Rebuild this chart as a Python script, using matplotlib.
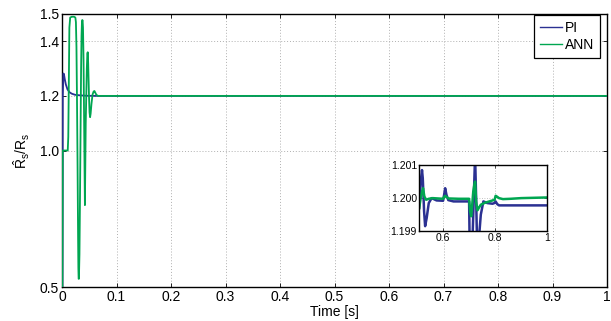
import matplotlib
matplotlib.use("Agg")
import matplotlib.pyplot as plt

plt.rcParams['font.family'] = ['Liberation Sans', 'DejaVu Sans']
plt.rcParams['mathtext.fontset'] = 'custom'
plt.rcParams['mathtext.rm'] = 'Liberation Sans'
plt.rcParams['mathtext.it'] = 'Liberation Sans'

# ---- main plot data ----
pi_t = [0.0, 0.0008, 0.0014, 0.0025, 0.0035, 0.005, 0.007, 0.010, 0.014, 0.018, 0.024, 0.033, 0.045, 0.06, 0.1, 1.0]
pi_y = [0.5, 0.5, 1.20, 1.282, 1.280, 1.262, 1.242, 1.224, 1.213, 1.208, 1.204, 1.202, 1.2005, 1.2, 1.2, 1.2]

ann_t = [0.0, 0.0006, 0.0012, 0.0105, 0.0115, 0.0125, 0.0135, 0.015, 0.018, 0.022, 0.0245, 0.0255, 0.0265,
         0.0275, 0.0285, 0.0295, 0.030, 0.0305, 0.031, 0.032, 0.033, 0.034, 0.035, 0.0358, 0.0365, 0.0372,
         0.0378, 0.0385, 0.0395, 0.0405, 0.0415, 0.042, 0.0425, 0.0435, 0.0455, 0.0465, 0.0472, 0.048,
         0.0495, 0.0505, 0.0515, 0.0525, 0.054, 0.056, 0.058, 0.0595, 0.061, 0.063, 0.066, 0.07, 0.1, 1.0]
ann_y = [0.5, 0.5, 1.0, 1.0, 1.05, 1.25, 1.45, 1.487, 1.49, 1.49, 1.487, 1.47, 1.38,
         1.18, 0.95, 0.68, 0.57, 0.53, 0.53, 0.62, 0.83, 1.07, 1.30, 1.42, 1.465, 1.478,
         1.476, 1.45, 1.33, 1.12, 0.90, 0.80, 0.90, 1.10, 1.30, 1.355, 1.36, 1.32,
         1.20, 1.14, 1.122, 1.135, 1.17, 1.205, 1.216, 1.218, 1.212, 1.204, 1.2, 1.2, 1.2, 1.2]

# ---- inset data ----
pi_in_t = [0.508, 0.514, 0.519, 0.522, 0.527, 0.531, 0.537, 0.545, 0.556, 0.575, 0.600, 0.604, 0.608, 0.613,
           0.620, 0.640, 0.700, 0.702, 0.705, 0.712, 0.718, 0.723, 0.727, 0.731, 0.735, 0.745, 0.755,
           0.770, 0.790, 0.797, 0.802, 0.808, 0.815, 0.830, 1.0]
pi_in_y = [1.1997, 1.2005, 1.20085, 1.2006, 1.1996, 1.19915, 1.1994, 1.19985, 1.2, 1.19993, 1.19992, 1.2001,
           1.2003, 1.2001, 1.19994, 1.1999, 1.1999, 1.1987, 1.1985, 1.1985, 1.2000, 1.2013, 1.2000, 1.1985, 1.1985,
           1.1995, 1.1999, 1.19985, 1.19983, 1.19985, 1.1999, 1.19982, 1.19978, 1.19978, 1.19978]

ann_in_t = [0.508, 0.514, 0.519, 0.523, 0.528, 0.535, 0.545, 0.560, 0.600, 0.604, 0.608, 0.613, 0.620,
            0.660, 0.700, 0.704, 0.708, 0.712, 0.716, 0.720, 0.723, 0.727, 0.732, 0.737, 0.745, 0.761,
            0.790, 0.798, 0.802, 0.808, 0.815, 0.830, 0.860, 0.900, 0.950, 1.0]
ann_in_y = [1.1997, 1.2000, 1.2002, 1.2003, 1.20005, 1.19995, 1.19998, 1.2, 1.19998, 1.20004, 1.20007, 1.20004,
            1.19999, 1.19998, 1.19998, 1.1996, 1.19945, 1.1998, 1.2002, 1.2004, 1.2005, 1.1999, 1.19963, 1.1997,
            1.1998, 1.19986, 1.19993, 1.19995, 1.20007, 1.20004, 1.20000, 1.19997, 1.19998, 1.2, 1.20001, 1.20002]

x_ticks = [0, 0.1, 0.2, 0.3, 0.4, 0.5, 0.6, 0.7, 0.8, 0.9, 1.0]
x_labels = ['0', '0.1', '0.2', '0.3', '0.4', '0.5', '0.6', '0.7', '0.8', '0.9', '1']
y_ticks = [0.5, 1.0, 1.2, 1.4, 1.5]
y_labels = ['0.5', '1.0', '1.2', '1.4', '1.5']
in_x_ticks = [0.6, 0.8, 1.0]
in_x_labels = ['0.6', '0.8', '1']
in_y_ticks = [1.199, 1.200, 1.201]
in_y_labels = ['1.199', '1.200', '1.201']

PI_C = '#2b3192'
ANN_C = '#00a651'

fig = plt.figure(figsize=(6.11, 3.21), dpi=100)
ax = fig.add_axes([0.1015, 0.1059, 0.892, 0.8505])
ax.plot(pi_t, pi_y, color=PI_C, lw=1.3, label='PI', zorder=3)
ax.plot(ann_t, ann_y, color=ANN_C, lw=1.3, label='ANN', zorder=3)
ax.set_xlim(0, 1)
ax.set_ylim(0.5, 1.5)
ax.set_xticks(x_ticks)
ax.set_xticklabels(x_labels)
ax.set_yticks(y_ticks)
ax.set_yticklabels(y_labels)
ax.tick_params(direction='in', top=True, right=True, labelsize=10, length=3, width=0.6, pad=2)
ax.grid(True, linestyle=(0, (1, 2)), color='#b0b0b0', lw=0.7)
for s in ax.spines.values():
    s.set_linewidth(1.0)
ax.set_xlabel('Time [s]', fontsize=10, labelpad=1)
ax.set_ylabel(r'$\mathrm{\hat{R}_s/R_s}$', fontsize=10, labelpad=6)
leg = ax.legend(loc='upper right', bbox_to_anchor=(0.988, 0.997), fontsize=10, fancybox=False,
                framealpha=1, edgecolor='black',
                handlelength=1.6, handletextpad=0.2, borderpad=0.45, labelspacing=0.2,
                borderaxespad=0.0)
leg.get_frame().set_linewidth(0.9)
for l in leg.get_lines():
    l.set_linewidth(1.0)

axin = fig.add_axes([0.686, 0.280, 0.2095, 0.2056])
axin.plot(pi_in_t, pi_in_y, color=PI_C, lw=1.8)
axin.plot(ann_in_t, ann_in_y, color=ANN_C, lw=1.8)
axin.set_xlim(0.508, 1.0)
axin.set_ylim(1.199, 1.201)
axin.set_xticks(in_x_ticks)
axin.set_xticklabels(in_x_labels)
axin.set_yticks(in_y_ticks)
axin.set_yticklabels(in_y_labels)
axin.tick_params(direction='in', top=True, right=True, labelsize=7.5, length=2, width=0.5, pad=1.5)
axin.grid(True, linestyle=(0, (1, 2)), color='#b0b0b0', lw=0.6)
for s in axin.spines.values():
    s.set_linewidth(1.0)

fig.savefig('out.png', dpi=100)
